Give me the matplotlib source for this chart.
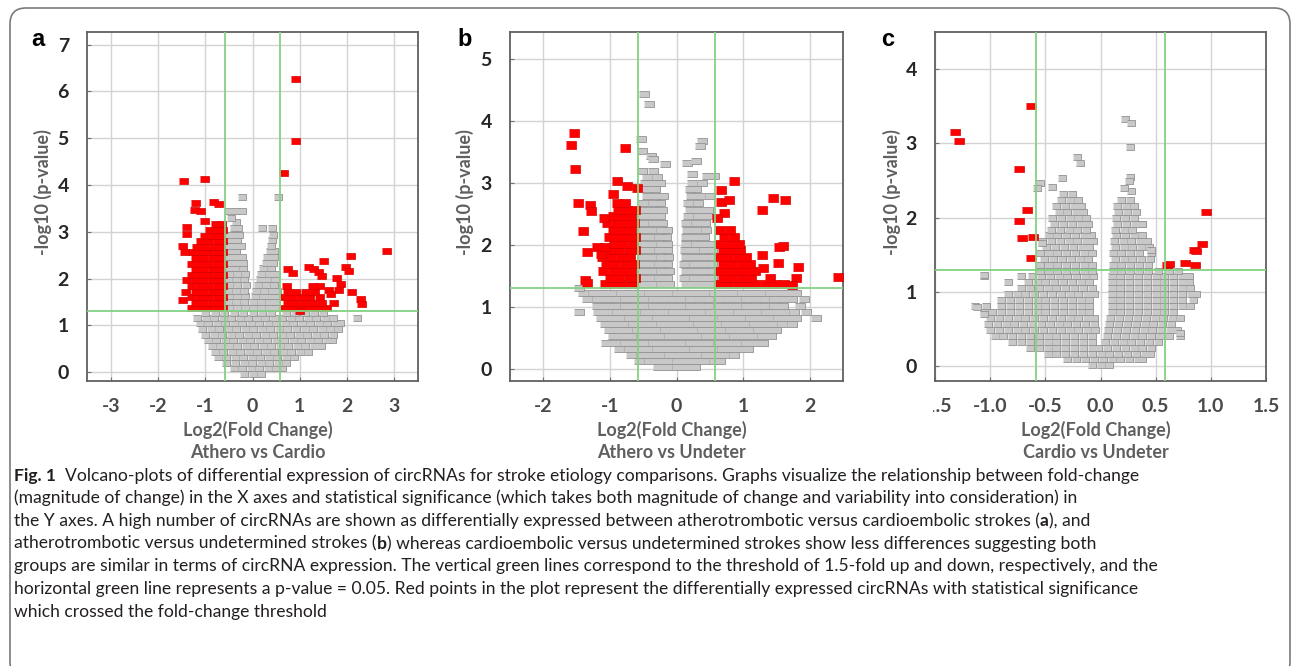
import matplotlib
matplotlib.use("Agg")
import matplotlib.pyplot as plt
from matplotlib.patches import FancyBboxPatch
from matplotlib.transforms import Bbox, IdentityTransform
import math

# ---------------- data ----------------
FC_THRESHOLD = math.log2(1.5)          # vertical green lines
P_THRESHOLD = -math.log10(0.05)        # horizontal green line

# Panel a : Athero vs Cardio  -- rows of (y, [x values])
A_GRAY_ROWS = [
    (-0.04, [-0.18, 0.0, 0.18]),
    (0.08, [-0.4, -0.22, -0.04, 0.14, 0.32, 0.5, 0.62]),
    (0.2, [-0.55, -0.37, -0.19, -0.01, 0.17, 0.35, 0.53, 0.71]),
    (0.32, [-0.74, -0.56, -0.38, -0.2, -0.02, 0.16, 0.34, 0.52, 0.7, 0.88]),
    (0.44, [-0.8, -0.62, -0.44, -0.26, -0.08, 0.1, 0.28, 0.46, 0.64, 0.82, 1.0, 1.18]),
    (0.56, [-0.86, -0.68, -0.5, -0.32, -0.14, 0.04, 0.22, 0.4, 0.58, 0.76, 0.94, 1.12, 1.3, 1.45]),
    (0.68, [-0.95, -0.77, -0.59, -0.41, -0.23, -0.05, 0.13, 0.31, 0.49, 0.67, 0.85, 1.03, 1.21, 1.39, 1.57, 1.68]),
    (0.8, [-1.0, -0.82, -0.64, -0.46, -0.28, -0.1, 0.08, 0.26, 0.44, 0.62, 0.8, 0.98, 1.16, 1.34, 1.52, 1.7]),
    (0.92, [-1.06, -0.88, -0.7, -0.52, -0.34, -0.16, 0.02, 0.2, 0.38, 0.56, 0.74, 0.92, 1.1, 1.28, 1.46, 1.64, 1.8]),
    (1.04, [-1.12, -0.94, -0.76, -0.58, -0.4, -0.22, -0.04, 0.14, 0.32, 0.5, 0.68, 0.86, 1.04, 1.22, 1.4, 1.58, 1.76, 1.86]),
    (1.16, [-1.17, -0.99, -0.81, -0.63, -0.45, -0.27, -0.09, 0.09, 0.27, 0.45, 0.63, 0.81, 0.99, 1.17, 1.35, 1.53, 1.7, 2.21]),
    (1.26, [-1.0, -0.8, -0.6, -0.4, -0.2, 0.0, 0.2, 0.4, 0.7, 0.9, 1.1, 1.3, 1.5]),
    (1.38, [-0.5, -0.33, -0.16, 0.01, 0.18, 0.35, 0.5]),
    (1.5, [-0.52, -0.35, -0.18, 0.0, 0.17, 0.34, 0.5]),
    (1.62, [-0.5, -0.33, -0.16, 0.05, 0.22, 0.38, 0.52]),
    (1.74, [-0.52, -0.35, -0.18, 0.08, 0.25, 0.42, 0.52]),
    (1.86, [-0.5, -0.33, -0.14, 0.12, 0.28, 0.45]),
    (1.98, [-0.52, -0.35, -0.17, 0.15, 0.3, 0.47]),
    (2.1, [-0.5, -0.33, -0.15, 0.18, 0.35, 0.5]),
    (2.22, [-0.52, -0.36, -0.2, 0.22, 0.4]),
    (2.34, [-0.5, -0.34, -0.2, 0.28, 0.44]),
    (2.46, [-0.52, -0.36, -0.22, 0.3, 0.45]),
    (2.58, [-0.5, -0.34, 0.38, 0.46]),
    (2.7, [-0.52, -0.38, -0.25, 0.4]),
    (2.82, [-0.48, -0.32, 0.42]),
    (2.94, [-0.5, -0.36, -0.28, 0.44]),
    (3.08, [-0.4, -0.3, 0.21, 0.41]),
    (3.2, [-0.34]),
    (3.3, [-0.45]),
    (3.44, [-0.5, -0.35, -0.23]),
    (3.74, [-0.23, 0.53]),
]
A_RED_ROWS = [
    (1.36, [-1.3, -1.12, -0.94, -0.76, -0.64, 0.66, 0.84, 1.02, 1.2, 1.38, 1.55]),
    (1.48, [-1.22, -1.04, -0.86, -0.68, 0.72, 0.9, 1.08, 1.26, 1.44]),
    (1.6, [-1.3, -1.12, -0.94, -0.76, -0.64, 0.66, 0.84, 1.02, 1.2, 1.4]),
    (1.72, [-1.42, -1.22, -1.04, -0.86, -0.68, 0.72, 0.9, 1.1, 1.3]),
    (1.84, [-1.3, -1.12, -0.94, -0.76, -0.64, 0.7, 1.25, 1.4]),
    (1.96, [-1.4, -1.22, -1.04, -0.86, -0.68]),
    (2.08, [-1.3, -1.12, -0.94, -0.76, -0.64]),
    (2.2, [-1.22, -1.04, -0.86, -0.68]),
    (2.32, [-1.3, -1.12, -0.94, -0.76, -0.64]),
    (2.44, [-1.22, -1.04, -0.86, -0.68]),
    (2.56, [-1.28, -1.12, -0.94, -0.76, -0.64]),
    (2.68, [-1.2, -1.02, -0.84, -0.68]),
    (2.8, [-1.1, -0.94, -0.76, -0.64]),
    (2.92, [-1.02, -0.84, -0.68]),
    (3.04, [-0.92, -0.76, -0.64]),
    (3.16, [-0.8, -0.66]),
]
A_RED_POINTS = [
    (0.89, 6.27), (0.89, 4.95), (0.65, 4.26), (-1.47, 4.09), (-1.03, 4.12),
    (-1.22, 3.61), (-0.83, 3.64), (-0.74, 3.6), (-1.24, 3.46), (-1.12, 3.44),
    (-1.03, 3.24), (-1.4, 3.11), (-1.4, 2.96), (-1.49, 2.69), (-1.44, 2.56),
    (-1.49, 1.54), (2.82, 2.59), (2.06, 2.48), (1.49, 2.37), (1.95, 2.25),
    (2.02, 2.16), (0.74, 2.21), (0.84, 2.11), (1.17, 2.25), (1.28, 2.21),
    (1.38, 2.14), (1.45, 2.05), (1.76, 2.02), (1.84, 1.89), (1.81, 1.75),
    (1.6, 1.75), (1.63, 1.68), (1.7, 1.48), (2.09, 1.71), (2.27, 1.57),
    (2.3, 1.46), (0.99, 1.31),
]

# Panel b : Athero vs Undeter
B_GRAY_ROWS = [
    (0.02, [-0.28, -0.14, 0.0, 0.14, 0.28]),
    (0.12, [-0.56, -0.42, -0.28, -0.14, 0.0, 0.14, 0.28, 0.42, 0.56, 0.66]),
    (0.22, [-0.68, -0.54, -0.4, -0.26, -0.12, 0.02, 0.16, 0.3, 0.44, 0.58, 0.72, 0.86]),
    (0.32, [-0.86, -0.72, -0.58, -0.44, -0.3, -0.16, -0.02, 0.12, 0.26, 0.4, 0.54, 0.68, 0.82, 0.96, 1.08]),
    (0.42, [-1.06, -0.92, -0.78, -0.64, -0.5, -0.36, -0.22, -0.08, 0.06, 0.2, 0.34, 0.48, 0.62, 0.76, 0.9, 1.04, 1.18, 1.3]),
    (0.52, [-0.96, -0.82, -0.68, -0.54, -0.4, -0.26, -0.12, 0.02, 0.16, 0.3, 0.44, 0.58, 0.72, 0.86, 1.0, 1.14, 1.28, 1.42]),
    (0.62, [-1.02, -0.88, -0.74, -0.6, -0.46, -0.32, -0.18, -0.04, 0.1, 0.24, 0.38, 0.52, 0.66, 0.8, 0.94, 1.08, 1.22, 1.36, 1.5]),
    (0.72, [-1.08, -0.94, -0.8, -0.66, -0.52, -0.38, -0.24, -0.1, 0.04, 0.18, 0.32, 0.46, 0.6, 0.74, 0.88, 1.02, 1.16, 1.3, 1.44, 1.58, 1.74]),
    (0.82, [-1.14, -1.0, -0.86, -0.72, -0.58, -0.44, -0.3, -0.16, -0.02, 0.12, 0.26, 0.4, 0.54, 0.68, 0.82, 0.96, 1.1, 1.24, 1.38, 1.52, 1.66, 1.8, 2.1]),
    (0.92, [-1.47, -1.18, -1.04, -0.9, -0.76, -0.62, -0.48, -0.34, -0.2, -0.06, 0.08, 0.22, 0.36, 0.5, 0.64, 0.78, 0.92, 1.06, 1.2, 1.34, 1.48, 1.62, 1.76, 1.94]),
    (1.02, [-1.2, -1.06, -0.92, -0.78, -0.64, -0.5, -0.36, -0.22, -0.08, 0.06, 0.2, 0.34, 0.48, 0.62, 0.76, 0.9, 1.04, 1.18, 1.32, 1.46, 1.6, 1.86]),
    (1.12, [-1.34, -1.2, -1.06, -0.92, -0.78, -0.64, -0.5, -0.36, -0.22, -0.08, 0.06, 0.2, 0.34, 0.48, 0.62, 0.76, 0.9, 1.04, 1.18, 1.32, 1.46, 1.6, 1.74, 1.91]),
    (1.22, [-1.4, -1.26, -1.12, -0.98, -0.84, -0.7, -0.56, -0.42, -0.28, -0.14, 0.0, 0.14, 0.28, 0.42, 0.56, 0.7, 0.84, 0.98, 1.12, 1.26, 1.4, 1.54, 1.68, 1.8]),
    (1.3, [-1.47]),
    (1.36, [-0.52, -0.38, -0.24, -0.12, 0.14, 0.28, 0.42, 0.54]),
    (1.47, [-0.55, -0.41, -0.27, -0.14, 0.12, 0.26, 0.4, 0.53]),
    (1.58, [-0.52, -0.38, -0.24, -0.12, 0.14, 0.28, 0.42, 0.54]),
    (1.69, [-0.55, -0.41, -0.27, -0.15, 0.12, 0.26, 0.4, 0.53]),
    (1.8, [-0.52, -0.38, -0.24, -0.13, 0.14, 0.28, 0.42, 0.54]),
    (1.91, [-0.55, -0.41, -0.27, -0.15, 0.13, 0.27, 0.41, 0.53]),
    (2.02, [-0.52, -0.38, -0.24, -0.14, 0.15, 0.29, 0.43, 0.54]),
    (2.13, [-0.55, -0.41, -0.27, -0.16, 0.14, 0.28, 0.42]),
    (2.24, [-0.52, -0.38, -0.24, -0.15, 0.16, 0.3, 0.44]),
    (2.35, [-0.5, -0.36, -0.22, 0.15, 0.29, 0.43]),
    (2.46, [-0.52, -0.38, -0.25, 0.18, 0.32, 0.46]),
    (2.57, [-0.48, -0.34, -0.22, 0.2, 0.34, 0.48]),
    (2.68, [-0.5, -0.36, -0.25, 0.18, 0.32]),
    (2.79, [-0.45, -0.32, -0.2, 0.22, 0.36, 0.5]),
    (2.9, [-0.45, -0.32, 0.2, 0.3]),
    (3.0, [-0.48, -0.35, -0.25, 0.24, 0.38]),
    (3.1, [-0.45, -0.3]),
    (3.2, [-0.52, -0.35]),
]
B_GRAY_POINTS = [
    (-0.49, 4.43), (-0.42, 4.27), (-0.54, 3.71), (-0.52, 3.51), (-0.39, 3.43),
    (-0.35, 3.38), (-0.18, 3.3), (0.39, 3.68), (0.35, 3.59), (0.16, 3.32),
    (0.3, 3.35), (0.24, 3.14), (0.46, 3.11), (0.56, 3.11),
]
B_RED_ROWS = [
    (1.36, [-1.08, -0.94, -0.8, -0.66, 0.64, 0.78, 0.92, 1.06, 1.2, 1.34, 1.48, 1.62]),
    (1.47, [-1.0, -0.86, -0.72, -0.62, 0.7, 0.84, 0.98, 1.12, 1.4]),
    (1.58, [-1.1, -0.96, -0.82, -0.68, 0.64, 0.78, 0.92, 1.06, 1.18]),
    (1.69, [-1.06, -0.92, -0.78, -0.64, 0.7, 0.84, 0.98, 1.1]),
    (1.8, [-1.12, -0.98, -0.84, -0.7, 0.64, 0.78, 0.92, 1.04]),
    (1.91, [-1.0, -0.86, -0.72, -0.62, 0.7, 0.84, 0.96]),
    (2.02, [-0.94, -0.8, -0.66, 0.66, 0.8, 0.94]),
    (2.13, [-1.02, -0.88, -0.74, -0.62, 0.72, 0.86]),
    (2.24, [-0.96, -0.82, -0.68, 0.66, 0.8]),
    (2.35, [-1.04, -0.9, -0.76, -0.64]),
    (2.46, [-0.95, -0.82, -0.68]),
    (2.57, [-0.88, -0.74, -0.63]),
    (2.68, [-0.9, -0.78]),
]
B_RED_POINTS = [
    (-1.54, 3.81), (-1.58, 3.62), (-1.52, 3.23), (-0.77, 3.57), (-1.48, 2.68),
    (-1.3, 2.65), (-1.28, 2.54), (-1.4, 2.23), (-1.34, 1.89), (-1.38, 1.43),
    (-1.34, 1.38), (-0.9, 3.04), (-0.74, 2.95), (-0.6, 2.92), (-0.95, 2.82),
    (-1.19, 1.97), (-1.09, 2.43), (-1.14, 1.86), (-1.07, 1.97),
    (0.86, 3.03), (0.67, 2.89), (0.67, 2.7), (0.79, 2.73), (0.71, 2.51),
    (1.45, 2.76), (1.63, 2.73), (1.29, 2.56), (0.61, 2.43), (1.54, 1.96),
    (1.6, 1.98), (1.28, 1.84), (1.3, 1.62), (1.53, 1.7), (1.83, 1.65),
    (1.8, 1.46), (1.74, 1.35), (2.43, 1.48),
]

# Panel c : Cardio vs Undeter
C_GRAY_ROWS = [
    (0.02, [-0.08, 0.0, 0.08]),
    (0.09, [-0.3, -0.22, -0.14, -0.06, 0.02, 0.1, 0.18, 0.26, 0.34, 0.38]),
    (0.17, [-0.48, -0.4, -0.32, -0.24, -0.16, -0.08, 0.0, 0.08, 0.16, 0.24, 0.32, 0.4, 0.45]),
    (0.25, [-0.64, -0.56, -0.48, -0.4, -0.32, -0.24, -0.16, -0.08, -0.02, 0.06, 0.14, 0.22, 0.3, 0.38, 0.46]),
    (0.33, [-0.8, -0.72, -0.64, -0.56, -0.48, -0.4, -0.32, -0.24, -0.16, -0.08, 0.04, 0.12, 0.2, 0.28, 0.36, 0.44, 0.52]),
    (0.41, [-0.96, -0.88, -0.8, -0.72, -0.64, -0.56, -0.48, -0.4, -0.32, -0.24, -0.16, -0.08, 0.06, 0.14, 0.22, 0.3, 0.38, 0.46, 0.54, 0.62, 0.72]),
    (0.49, [-1.0, -0.92, -0.84, -0.76, -0.68, -0.6, -0.52, -0.44, -0.36, -0.28, -0.2, -0.12, -0.05, 0.07, 0.15, 0.23, 0.31, 0.39, 0.47, 0.55, 0.63, 0.69]),
    (0.57, [-1.02, -0.94, -0.86, -0.78, -0.7, -0.62, -0.54, -0.46, -0.38, -0.3, -0.22, -0.14, -0.06, 0.08, 0.16, 0.24, 0.32, 0.4, 0.48, 0.56, 0.64]),
    (0.65, [-1.0, -0.92, -0.84, -0.76, -0.68, -0.6, -0.52, -0.44, -0.36, -0.28, -0.2, -0.12, -0.06, 0.09, 0.17, 0.25, 0.33, 0.41, 0.49, 0.57, 0.65, 0.72]),
    (0.73, [-1.06, -0.98, -0.9, -0.82, -0.74, -0.66, -0.58, -0.5, -0.42, -0.34, -0.26, -0.18, -0.1, 0.1, 0.18, 0.26, 0.34, 0.42, 0.5, 0.58, 0.66]),
    (0.81, [-1.14, -1.04, -0.9, -0.82, -0.74, -0.66, -0.58, -0.5, -0.42, -0.34, -0.26, -0.18, -0.1, 0.1, 0.18, 0.26, 0.34, 0.42, 0.5, 0.58, 0.66, 0.74, 0.81]),
    (0.89, [-0.9, -0.82, -0.74, -0.66, -0.58, -0.5, -0.42, -0.34, -0.26, -0.18, -0.1, 0.1, 0.18, 0.26, 0.34, 0.42, 0.5, 0.58, 0.66, 0.74, 0.84]),
    (0.97, [-0.84, -0.76, -0.68, -0.6, -0.52, -0.44, -0.36, -0.28, -0.2, -0.12, -0.06, 0.1, 0.18, 0.26, 0.34, 0.42, 0.5, 0.58, 0.66, 0.74, 0.82, 0.87]),
    (1.05, [-0.72, -0.64, -0.56, -0.48, -0.4, -0.32, -0.24, -0.16, -0.08, 0.1, 0.18, 0.26, 0.34, 0.42, 0.5, 0.58, 0.66, 0.74, 0.81]),
    (1.13, [-0.84, -0.66, -0.58, -0.5, -0.42, -0.34, -0.26, -0.18, -0.1, 0.1, 0.18, 0.26, 0.34, 0.42, 0.5, 0.58, 0.66, 0.74, 0.8]),
    (1.21, [-1.06, -0.72, -0.62, -0.54, -0.46, -0.38, -0.3, -0.22, -0.14, -0.07, 0.1, 0.18, 0.26, 0.34, 0.42, 0.5, 0.58, 0.66, 0.74, 0.8]),
    (1.28, [-0.55, -0.47, -0.39, -0.31, -0.23, -0.15, -0.08, 0.11, 0.19, 0.27, 0.35, 0.43, 0.52, 0.62, 0.7]),
    (1.36, [-0.55, -0.47, -0.39, -0.31, -0.23, -0.15, -0.08, 0.11, 0.19, 0.27, 0.35, 0.43]),
    (1.44, [-0.51, -0.43, -0.35, -0.27, -0.19, -0.11, 0.13, 0.21, 0.29, 0.37, 0.45]),
    (1.52, [-0.55, -0.47, -0.39, -0.31, -0.23, -0.15, -0.08, 0.11, 0.19, 0.27, 0.35, 0.46]),
    (1.6, [-0.49, -0.41, -0.33, -0.25, -0.17, -0.1, 0.13, 0.21, 0.29, 0.37, 0.44]),
    (1.68, [-0.53, -0.45, -0.37, -0.29, -0.21, -0.13, -0.07, 0.12, 0.2, 0.28, 0.36, 0.42]),
    (1.76, [-0.47, -0.39, -0.31, -0.23, -0.15, -0.09, 0.14, 0.22, 0.3, 0.38]),
    (1.84, [-0.45, -0.37, -0.29, -0.21, -0.13, 0.13, 0.21, 0.29]),
    (1.92, [-0.42, -0.34, -0.26, -0.18, -0.11, 0.15, 0.23, 0.31, 0.38]),
    (2.0, [-0.44, -0.36, -0.28, -0.2, -0.13, 0.14, 0.22, 0.3]),
    (2.08, [-0.38, -0.3, -0.22, -0.16, 0.16, 0.24, 0.32]),
    (2.16, [-0.4, -0.32, -0.24, -0.18, 0.15, 0.23, 0.3]),
    (2.24, [-0.36, -0.28, -0.2, 0.19, 0.27]),
    (2.32, [-0.34, -0.26]),
]
C_GRAY_POINTS = [
    (-1.12, 0.8), (-1.06, 0.7), (-1.06, 1.23), (-0.53, 1.66), (-0.55, 2.46),
    (-0.58, 2.4), (-0.44, 2.41), (-0.35, 2.54), (-0.21, 2.82), (-0.19, 2.73),
    (0.27, 2.55), (0.26, 2.49), (0.28, 2.36), (0.21, 2.4), (0.27, 2.95),
    (0.22, 3.33), (0.28, 3.27), (0.38, 1.91), (0.46, 1.56), (0.72, 0.45),
]
C_RED_POINTS = [
    (-1.32, 3.16), (-1.28, 3.03), (-0.63, 3.5), (-0.74, 2.66), (-0.67, 2.1),
    (-0.74, 1.95), (-0.71, 1.73), (-0.61, 1.74), (-0.63, 1.46), (0.96, 2.08),
    (0.92, 1.64), (0.85, 1.57), (0.87, 1.55), (0.77, 1.39), (0.86, 1.36),
    (0.6, 1.36), (0.62, 1.37),
]

PANELS = ["a", "b", "c"]
COMPARISONS = ["Athero vs Cardio", "Athero vs Undeter", "Cardio vs Undeter"]
X_LABEL = "Log2(Fold Change)"
Y_LABEL = "-log10 (p-value)"
A_XTICKS = [-3, -2, -1, 0, 1, 2, 3]
A_YTICKS = [0, 1, 2, 3, 4, 5, 6, 7]
B_XTICKS = [-2, -1, 0, 1, 2]
B_YTICKS = [0, 1, 2, 3, 4, 5]
C_XTICKS = [-1.5, -1.0, -0.5, 0.0, 0.5, 1.0, 1.5]
C_XTICKLABELS = ["-1.5", "-1.0", "-0.5", "0.0", "0.5", "1.0", "1.5"]
C_YTICKS = [0, 1, 2, 3, 4]

CAPTION = [
    [("Fig. 1", "bold"), ("  Volcano-plots of differential expression of circRNAs for stroke etiology comparisons. Graphs visualize the relationship between fold-change", "normal")],
    [("(magnitude of change) in the X axes and statistical significance (which takes both magnitude of change and variability into consideration) in", "normal")],
    [("the Y axes. A high number of circRNAs are shown as differentially expressed between atherotrombotic versus cardioembolic strokes (", "normal"), ("a", "bold"), ("), and", "normal")],
    [("atherotrombotic versus undetermined strokes (", "normal"), ("b", "bold"), (") whereas cardioembolic versus undetermined strokes show less differences suggesting both", "normal")],
    [("groups are similar in terms of circRNA expression. The vertical green lines correspond to the threshold of 1.5-fold up and down, respectively, and the", "normal")],
    [("horizontal green line represents a p-value = 0.05. Red points in the plot represent the differentially expressed circRNAs with statistical significance", "normal")],
    [("which crossed the fold-change threshold", "normal")],
]

# ---------------- figure ----------------
W, H = 1293, 666
fig = plt.figure(figsize=(W / 100, H / 100), dpi=100)
fig.patch.set_facecolor("white")

RECT = [(-1.0, -0.72), (1.0, -0.72), (1.0, 0.72), (-1.0, 0.72)]
GRAY_FC, GRAY_EC = "#c8c8c8", "#929292"
RED_FC, RED_EC = "#ff0000", "#d40000"
GREEN = "#82d282"
XTICK_COLOR = "#4a4a4a"
YTICK_COLOR = "#262626"
LABEL_COLOR = "#5f5f5f"
FONT = "Lato"


def flatten(rows, points=()):
    xs, ys = [], []
    for y, row in rows:
        for x in row:
            xs.append(x)
            ys.append(y)
    for x, y in points:
        xs.append(x)
        ys.append(y)
    return xs, ys


def px_axes(left, top, right, bottom):
    return fig.add_axes([left / W, 1 - bottom / H, (right - left) / W, (bottom - top) / H])


def marker_area(width_px):
    pt = width_px * 72.0 / 100.0
    return pt * pt


def make_panel(ax, gray, red, xlim, ylim, xticks, xticklabels, yticks, mwidth, comp,
               xlab_frac, ylab_frac):
    gx, gy = gray
    rx, ry = red
    ax.scatter(gx, gy, s=marker_area(mwidth), marker=RECT, facecolor=GRAY_FC,
               edgecolor=GRAY_EC, linewidths=0.6, zorder=2)
    ax.scatter(rx, ry, s=marker_area(mwidth + 0.6), marker=RECT, facecolor=RED_FC,
               edgecolor=RED_EC, linewidths=0.5, zorder=3)
    ax.axvline(-FC_THRESHOLD, color=GREEN, lw=1.3, zorder=4)
    ax.axvline(FC_THRESHOLD, color=GREEN, lw=1.3, zorder=4)
    ax.axhline(P_THRESHOLD, color=GREEN, lw=1.3, zorder=4)
    ax.set_xlim(*xlim)
    ax.set_ylim(*ylim)
    ax.set_xticks(xticks)
    ax.set_xticklabels(xticklabels)
    ax.set_yticks(yticks)
    ax.set_yticklabels([str(t) for t in yticks])
    ax.grid(True, color="#d3d3d3", lw=1.0)
    ax.set_axisbelow(True)
    ax.tick_params(direction="in", length=3, width=0.8, color="#707070", labelsize=14)
    ax.tick_params(axis="x", pad=12, labelcolor=XTICK_COLOR)
    ax.tick_params(axis="y", pad=13, labelcolor=YTICK_COLOR)
    for lab in ax.get_xticklabels() + ax.get_yticklabels():
        lab.set_fontweight("bold")
        lab.set_family(FONT)
    for sp in ax.spines.values():
        sp.set_color("#606060")
        sp.set_linewidth(1.3)
    ax.text(xlab_frac, -0.14, X_LABEL, transform=ax.transAxes, ha="center", va="center",
            fontsize=13, fontweight="bold", color=LABEL_COLOR, family=FONT)
    ax.text(xlab_frac, -0.205, comp, transform=ax.transAxes, ha="center", va="center",
            fontsize=13, fontweight="bold", color=LABEL_COLOR, family=FONT)
    ax.text(ylab_frac, 0.54, Y_LABEL, transform=ax.transAxes, ha="center", va="center",
            rotation=90, fontsize=13, fontweight="bold", color=LABEL_COLOR, family=FONT)


ax_a = px_axes(87, 32, 418, 381)
make_panel(ax_a, flatten(A_GRAY_ROWS), flatten(A_RED_ROWS, A_RED_POINTS),
           (-3.5, 3.5), (-0.19, 7.27), A_XTICKS, [str(t) for t in A_XTICKS], A_YTICKS,
           8.4, COMPARISONS[0], 0.517, -0.133)

ax_b = px_axes(510, 32, 843, 381)
make_panel(ax_b, flatten(B_GRAY_ROWS, B_GRAY_POINTS), flatten(B_RED_ROWS, B_RED_POINTS),
           (-2.5, 2.5), (-0.2, 5.44), B_XTICKS, [str(t) for t in B_XTICKS], B_YTICKS,
           9.2, COMPARISONS[1], 0.486, -0.135)

ax_c = px_axes(935, 32, 1266, 381)
make_panel(ax_c, flatten(C_GRAY_ROWS, C_GRAY_POINTS), flatten([], C_RED_POINTS),
           (-1.5, 1.5), (-0.2, 4.5), C_XTICKS, C_XTICKLABELS, C_YTICKS,
           8.7, COMPARISONS[2], 0.486, -0.13)
# the left-most tick label of panel c is cut off in the reference
first = ax_c.get_xticklabels()[0]
first.set_clip_box(Bbox.from_extents(933, 0, W, H))
first.set_clip_on(True)

# panel letters
for letter, (px, py) in zip(PANELS, [(38, 40), (465, 39), (888, 40)]):
    fig.text(px / W, 1 - py / H, letter, ha="center", va="center", fontsize=17,
             fontweight="bold", family="Liberation Sans", color="black")

# rounded border (pixel coordinates, origin bottom-left); bottom edge lies below the image
fig.patches.append(FancyBboxPatch((10, -12), 1280, H - 8 + 12,
                                  boxstyle="round,pad=0,rounding_size=16",
                                  transform=IdentityTransform(), facecolor="none",
                                  edgecolor="#7a7a7a", lw=1.2))

# caption
fig.canvas.draw()
renderer = fig.canvas.get_renderer()


def seg_width(text, fs, weight):
    t = fig.text(0, 0, text, fontsize=fs, fontweight=weight, family=FONT)
    w = t.get_window_extent(renderer).width
    t.remove()
    return w


base_fs = 12.0
w0 = sum(seg_width(s, base_fs, wt) for s, wt in CAPTION[0])
cap_fs = base_fs * (1133 - 14) / w0
for i, line in enumerate(CAPTION):
    x = 14.0
    ybase = 480.7 + 22.67 * i
    for s, wt in line:
        fig.text(x / W, 1 - ybase / H, s, fontsize=cap_fs, fontweight=wt, family=FONT,
                 color="#231f20", ha="left", va="baseline")
        x += seg_width(s, cap_fs, wt)

fig.savefig("out.png", dpi=100, facecolor="white")
